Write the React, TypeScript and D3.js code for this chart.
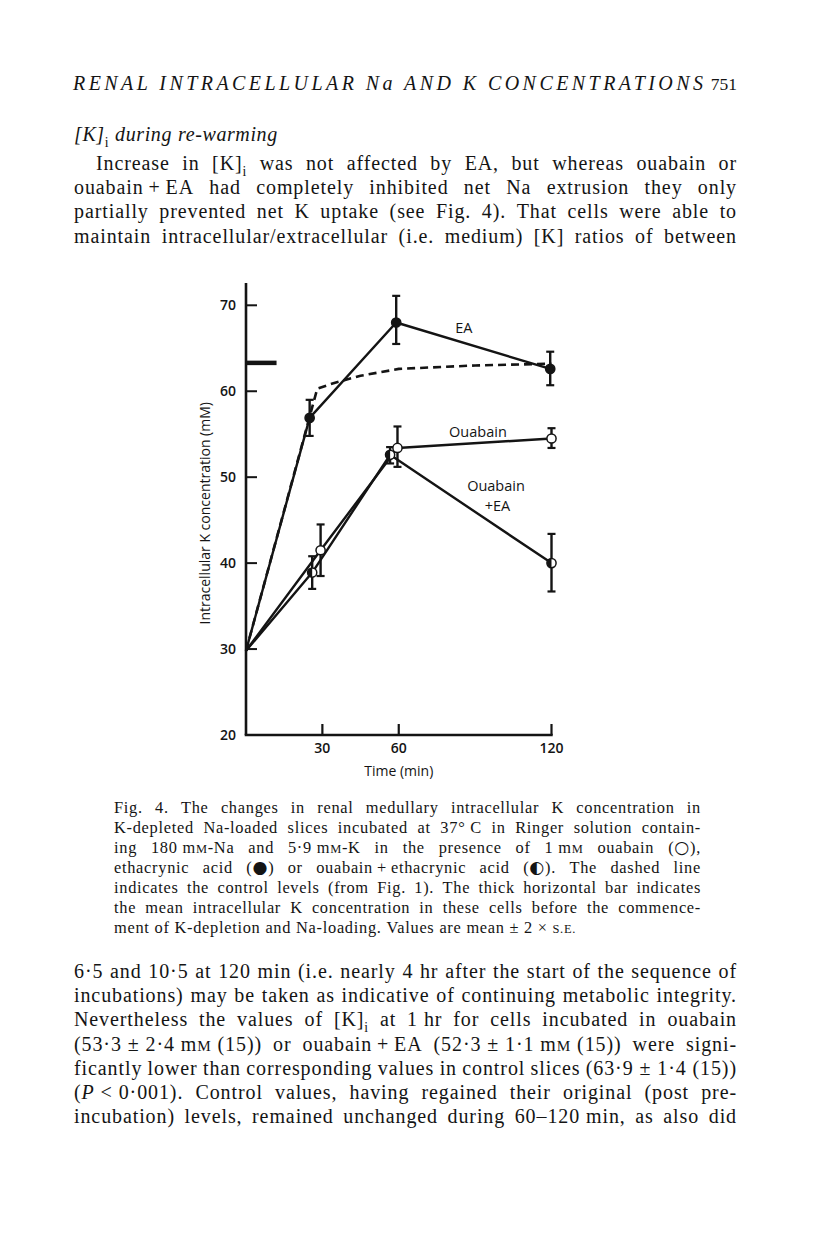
import React, { useEffect, useRef } from "react";
import * as d3 from "d3";

// values (time in min, intracellular K in mM)
const startTime = 0;
const startValue = 29.8;

const eaTimes = [25, 59, 119.5];
const eaValues = [56.9, 68.0, 62.6];
const eaLow = [54.8, 65.5, 60.7];
const eaHigh = [59.0, 71.1, 64.6];

const ouabainTimes = [29.3, 59.5, 120];
const ouabainValues = [41.5, 53.4, 54.5];
const ouabainLow = [38.5, 51.2, 53.4];
const ouabainHigh = [44.5, 55.9, 55.7];

const ouaEaTimes = [26, 56.6, 120];
const ouaEaValues = [38.9, 52.6, 40.0];
const ouaEaLow = [37.0, 51.6, 36.7];
const ouaEaHigh = [40.8, 53.5, 43.4];

// control levels from Fig. 1 (dashed)
const controlTimes = [0, 28, 35, 45, 60, 90, 120];
const controlValues = [29.8, 60.3, 61.0, 61.8, 62.6, 63.0, 63.2];

const preLevel = 63.3;
const preBarEnd = 12;

const yTicks = [20, 30, 40, 50, 60, 70];
const xTicks = [30, 60, 120];
const yAxisTop = 72.6;

const seriesLabels = [
  { text: "EA", t: 85.6, v: 66.8 },
  { text: "Ouabain", t: 91.1, v: 54.7 },
  { text: "Ouabain", t: 98.2, v: 48.4 },
  { text: "+EA", t: 98.8, v: 46.1 },
];

// page text ({..} small caps, _x subscript, *..* italic toggle, \u00a0 fixed space)
const headerTitle = "RENAL INTRACELLULAR Na AND K CONCENTRATIONS";
const pageNumber = "751";
const subheading = "[K]_i during re-warming";
const paraOne = [
  "Increase in [K]_i was not affected by EA, but whereas ouabain or",
  "ouabain\u2009+\u2009EA had completely inhibited net Na extrusion they only",
  "partially prevented net K uptake (see Fig. 4). That cells were able to",
  "maintain intracellular/extracellular (i.e. medium) [K] ratios of between",
];
const captionLines = [
  "Fig. 4. The changes in renal medullary intracellular K concentration in",
  "K-depleted Na-loaded slices incubated at 37°\u00a0C in Ringer solution contain-",
  "ing 180\u00a0m{m}-Na and 5·9\u00a0m{m}-K in the presence of 1\u00a0m{m} ouabain (○),",
  "ethacrynic acid (●) or ouabain\u2009+\u2009ethacrynic acid (◐). The dashed line",
  "indicates the control levels (from Fig. 1). The thick horizontal bar indicates",
  "the mean intracellular K concentration in these cells before the commence-",
  "ment of K-depletion and Na-loading. Values are mean\u00a0±\u00a02\u00a0×\u00a0{s.e.}",
];
const paraTwo = [
  "6·5 and 10·5 at 120 min (i.e. nearly 4 hr after the start of the sequence of",
  "incubations) may be taken as indicative of continuing metabolic integrity.",
  "Nevertheless the values of [K]_i at 1\u00a0hr for cells incubated in ouabain",
  "(53·3\u00a0±\u00a02·4\u00a0m{m}\u00a0(15)) or ouabain\u2009+\u2009EA (52·3\u00a0±\u00a01·1\u00a0m{m}\u00a0(15)) were signi-",
  "ficantly lower than corresponding values in control slices (63·9\u00a0±\u00a01·4\u00a0(15))",
  "(*P*\u00a0<\u00a00·001). Control values, having regained their original (post pre-",
  "incubation) levels, remained unchanged during 60–120\u00a0min, as also did",
];

const symbols = "○●◐";

type Seg = { t: string; sub?: boolean; sc?: boolean; it?: boolean; sym?: boolean };

function parseWord(word: string): Seg[] {
  const segs: Seg[] = [];
  let it = false;
  let sc = false;
  let buf = "";
  const push = () => {
    if (buf) segs.push({ t: buf, it, sc });
    buf = "";
  };
  for (let i = 0; i < word.length; i++) {
    const c = word[i];
    if (c === "*") {
      push();
      it = !it;
    } else if (c === "{") {
      push();
      sc = true;
    } else if (c === "}") {
      push();
      sc = false;
    } else if (c === "_") {
      push();
      segs.push({ t: word[i + 1], sub: true, it, sc });
      i++;
    } else if (symbols.includes(c)) {
      push();
      segs.push({ t: c, sym: true });
    } else buf += c;
  }
  push();
  return segs;
}

export default function App() {
  const svgRef = useRef<SVGSVGElement>(null);

  useEffect(() => {
    const svg = d3.select(svgRef.current);
    svg.selectAll("*").remove();
    svg.append("rect").attr("width", 816).attr("height", 1253).attr("fill", "#fff");

    const serif = "'Liberation Serif', 'Times New Roman', serif";
    const ink = "#141414";

    // one word as a <text> with tspans
    const addWord = (g: any, word: string, y: number, size: number, italic: boolean, ls: number) => {
      const text = g
        .append("text")
        .attr("y", y)
        .attr("font-size", size)
        .attr("font-family", serif)
        .attr("fill", ink)
        .attr("letter-spacing", ls);
      let shift = 0;
      parseWord(word).forEach((s) => {
        const ts = text.append("tspan").text(s.sc ? s.t.toUpperCase() : s.t);
        const isIt = italic !== !!s.it;
        ts.attr("font-style", isIt ? "italic" : "normal");
        if (s.sc) ts.attr("font-size", size * 0.76);
        if (s.sym) ts.attr("font-family", "'DejaVu Sans', sans-serif").attr("font-size", size * 1.05);
        if (s.sub) {
          ts.attr("font-size", size * 0.68).attr("font-style", "normal").attr("dy", size * 0.28 - shift);
          shift = size * 0.28;
        } else if (shift) {
          ts.attr("dy", -shift);
          shift = 0;
        }
      });
      return text;
    };

    const setLine = (
      line: string,
      x0: number,
      x1: number,
      y: number,
      size: number,
      justify: boolean,
      ls: number,
      italic = false
    ) => {
      const g = svg.append("g");
      const words = line.split(" ");
      const nodes = words.map((w) => addWord(g, w, y, size, italic, ls));
      const widths = nodes.map((n: any) => n.node().getComputedTextLength());
      const total = d3.sum(widths);
      const gap = justify && words.length > 1 ? (x1 - x0 - total) / (words.length - 1) : size * 0.3;
      let x = x0;
      nodes.forEach((n: any, i: number) => {
        n.attr("x", x);
        x += widths[i] + gap;
      });
    };

    // running header, letter-spaced italic caps
    svg
      .append("text")
      .attr("x", 73)
      .attr("y", 90)
      .attr("font-family", serif)
      .attr("font-style", "italic")
      .attr("font-size", 20)
      .attr("fill", ink)
      .attr("textLength", 630)
      .attr("lengthAdjust", "spacing")
      .text(headerTitle);
    svg
      .append("text")
      .attr("x", 737)
      .attr("y", 90)
      .attr("text-anchor", "end")
      .attr("font-family", serif)
      .attr("font-size", 17.5)
      .attr("fill", ink)
      .text(pageNumber);

    setLine(subheading, 74, 737, 141, 20, false, 0.6, true);

    const bodyStep = 24.2;
    paraOne.forEach((l, i) => setLine(l, i === 0 ? 96 : 74, 737, 170 + i * bodyStep, 20, true, 0.9));

    captionLines.forEach((l, i) =>
      setLine(l, 114, 701, 812.7 + i * 20.05, 16.4, i < captionLines.length - 1, 0.7)
    );

    paraTwo.forEach((l, i) => setLine(l, 74, 737, 978 + i * bodyStep, 20, true, 0.9));

    // ---- chart ----
    const x = d3.scaleLinear().domain([0, 120]).range([246, 551.5]);
    const y = d3.scaleLinear().domain([20, 70]).range([735, 305.3]);
    const sans = "'Open Sans', 'Noto Sans', sans-serif";
    const sw = 2.4;
    const chart = svg.append("g").attr("stroke-linecap", "butt");

    // axes
    chart
      .append("line")
      .attr("x1", x(0))
      .attr("x2", x(0))
      .attr("y1", y(20))
      .attr("y2", y(yAxisTop))
      .attr("stroke", ink)
      .attr("stroke-width", 2.6);
    chart
      .append("line")
      .attr("x1", x(0) - 1.3)
      .attr("x2", x(120) + 1.2)
      .attr("y1", y(20))
      .attr("y2", y(20))
      .attr("stroke", ink)
      .attr("stroke-width", 2.6);

    chart
      .selectAll(".ytick")
      .data(yTicks.filter((d) => d > 20))
      .join("line")
      .attr("x1", x(0))
      .attr("x2", x(0) + 11)
      .attr("y1", (d) => y(d))
      .attr("y2", (d) => y(d))
      .attr("stroke", ink)
      .attr("stroke-width", 2);
    chart
      .selectAll(".ylab")
      .data(yTicks)
      .join("text")
      .attr("x", x(0) - 10)
      .attr("y", (d) => y(d) + 5)
      .attr("text-anchor", "end")
      .attr("font-family", sans)
      .attr("font-size", 14)
      .attr("font-weight", 600)
      .attr("fill", ink)
      .text((d) => d);

    chart
      .selectAll(".xtick")
      .data(xTicks)
      .join("line")
      .attr("x1", (d) => x(d))
      .attr("x2", (d) => x(d))
      .attr("y1", y(20))
      .attr("y2", y(20) - 11)
      .attr("stroke", ink)
      .attr("stroke-width", 2.2);
    chart
      .selectAll(".xlab")
      .data(xTicks)
      .join("text")
      .attr("x", (d) => x(d))
      .attr("y", y(20) + 18)
      .attr("text-anchor", "middle")
      .attr("font-family", sans)
      .attr("font-size", 14)
      .attr("font-weight", 600)
      .attr("fill", ink)
      .text((d) => d);

    chart
      .append("text")
      .attr("x", x(60))
      .attr("y", y(20) + 41)
      .attr("text-anchor", "middle")
      .attr("font-family", sans)
      .attr("font-size", 14)
      .attr("fill", ink)
      .text("Time (min)");
    chart
      .append("text")
      .attr("transform", `translate(${x(0) - 36},${y(45.8)}) rotate(-90)`)
      .attr("text-anchor", "middle")
      .attr("font-family", sans)
      .attr("font-size", 14)
      .attr("fill", ink)
      .text("Intracellular K concentration (mM)");

    // thick pre-incubation bar
    chart
      .append("line")
      .attr("x1", x(0))
      .attr("x2", x(preBarEnd))
      .attr("y1", y(preLevel))
      .attr("y2", y(preLevel))
      .attr("stroke", ink)
      .attr("stroke-width", 4.5);

    const line = d3
      .line<[number, number]>()
      .x((d) => x(d[0]))
      .y((d) => y(d[1]));

    // control (dashed)
    const controlPts = controlTimes.map((t, i) => [t, controlValues[i]] as [number, number]);
    chart
      .append("path")
      .attr("d", line(controlPts))
      .attr("fill", "none")
      .attr("stroke", ink)
      .attr("stroke-width", 2.6)
      .attr("stroke-linejoin", "round")
      .attr("stroke-dasharray", "8 5");

    const series = [
      { times: ouaEaTimes, values: ouaEaValues, lo: ouaEaLow, hi: ouaEaHigh, marker: "half" },
      { times: ouabainTimes, values: ouabainValues, lo: ouabainLow, hi: ouabainHigh, marker: "open" },
      { times: eaTimes, values: eaValues, lo: eaLow, hi: eaHigh, marker: "filled" },
    ];

    series.forEach((s) => {
      const pts = [[startTime, startValue] as [number, number]].concat(
        s.times.map((t, i) => [t, s.values[i]] as [number, number])
      );
      chart
        .append("path")
        .attr("d", line(pts))
        .attr("fill", "none")
        .attr("stroke", ink)
        .attr("stroke-width", sw)
        .attr("stroke-linejoin", "round");
    });

    series.forEach((s) => {
      s.times.forEach((t, i) => {
        const cx = x(t);
        chart
          .append("line")
          .attr("x1", cx)
          .attr("x2", cx)
          .attr("y1", y(s.lo[i]))
          .attr("y2", y(s.hi[i]))
          .attr("stroke", ink)
          .attr("stroke-width", sw);
        [s.lo[i], s.hi[i]].forEach((v) =>
          chart
            .append("line")
            .attr("x1", cx - 4)
            .attr("x2", cx + 4)
            .attr("y1", y(v))
            .attr("y2", y(v))
            .attr("stroke", ink)
            .attr("stroke-width", 2.2)
        );
      });
    });

    const r = 4.6;
    series.forEach((s) => {
      s.times.forEach((t, i) => {
        const cx = x(t);
        const cy = y(s.values[i]);
        chart
          .append("circle")
          .attr("cx", cx)
          .attr("cy", cy)
          .attr("r", r)
          .attr("fill", s.marker === "filled" ? ink : "#fff")
          .attr("stroke", ink)
          .attr("stroke-width", 1.5);
        if (s.marker === "half") {
          chart
            .append("path")
            .attr("d", `M${cx},${cy - r} A${r},${r} 0 0 0 ${cx},${cy + r} Z`)
            .attr("fill", ink);
        }
      });
    });

    chart
      .selectAll(".slab")
      .data(seriesLabels)
      .join("text")
      .attr("x", (d) => x(d.t))
      .attr("y", (d) => y(d.v))
      .attr("text-anchor", "middle")
      .attr("font-family", sans)
      .attr("font-size", 14.5)
      .attr("fill", ink)
      .text((d) => d.text);
  }, []);

  return (
    <svg
      ref={svgRef}
      width={816}
      height={1253}
      style={{ position: "absolute", left: 0, top: 0, display: "block" }}
    />
  );
}
